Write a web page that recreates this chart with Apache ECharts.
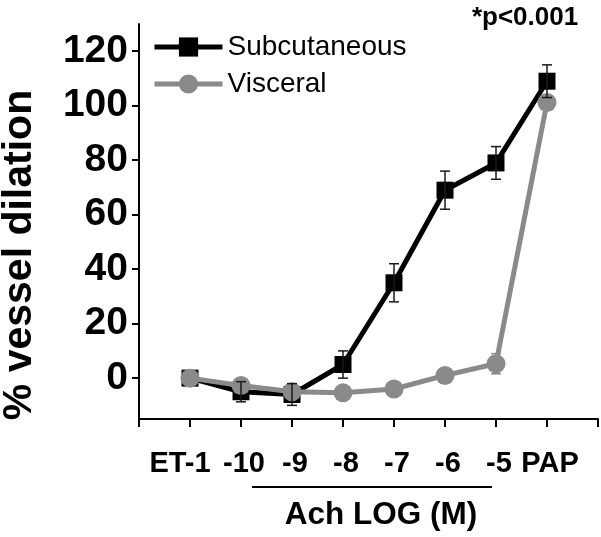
<!DOCTYPE html>
<html>
<head>
<meta charset="utf-8">
<script src="https://cdn.jsdelivr.net/npm/echarts@6/dist/echarts.min.js"></script>
<style>html,body{margin:0;padding:0;background:#fff}#c{width:601px;height:537px}</style>
</head>
<body>
<div id="c"></div>
<script>
const xLabels = ['ET-1', '-10', '-9', '-8', '-7', '-6', '-5', 'PAP'];
const xPositions = [1, 2, 3, 4, 5, 6, 7, 8];
const yTicks = [0, 20, 40, 60, 80, 100, 120];
const subcutaneous = [0, -5, -6, 5, 35, 69, 79, 109];
const subcutaneousErr = [0, 3.7, 4, 5, 7, 7, 6, 6];
const visceral = [0, -2.7, -5, -5.4, -4, 1, 5.3, 101.2];
const visceralErr = [1, 1, 1, 1.5, 1.5, 2, 3.7, 2];

const FONT = '"Liberation Sans", Arial, Helvetica, sans-serif';
const GRAY = '#8a8a8a';

function pts(vals) { return xPositions.map((x, i) => [x, vals[i]]); }
function errPts(vals, errs) { return xPositions.map((x, i) => [x, vals[i], errs[i]]); }

function errRender(color) {
  return function (params, api) {
    const x = api.value(0), y = api.value(1), e = api.value(2);
    if (!e) return { type: 'group', children: [] };
    const top = api.coord([x, y + e]);
    const bot = api.coord([x, y - e]);
    const hw = 5;
    const style = { stroke: color, lineWidth: 1.5 };
    return {
      type: 'group',
      children: [
        { type: 'line', shape: { x1: top[0], y1: top[1], x2: bot[0], y2: bot[1] }, style },
        { type: 'line', shape: { x1: top[0] - hw, y1: top[1], x2: top[0] + hw, y2: top[1] }, style },
        { type: 'line', shape: { x1: bot[0] - hw, y1: bot[1], x2: bot[0] + hw, y2: bot[1] }, style }
      ]
    };
  };
}

const labelFont = { fontFamily: FONT, fontSize: 29, fontWeight: 'bold', color: '#000' };

const chart = echarts.init(document.getElementById('c'), null, { renderer: 'canvas' });
chart.setOption({
  animation: false,
  backgroundColor: '#fff',
  grid: { left: 139, right: 3, top: 24, bottom: 118, containLabel: false },
  legend: {
    orient: 'vertical', left: 147, top: 28,
    itemWidth: 68, itemHeight: 24, itemGap: 9,
    lineStyle: { width: 5 },
    textStyle: { fontFamily: FONT, fontSize: 28, color: '#000' },
    data: ['Subcutaneous', 'Visceral']
  },
  xAxis: {
    type: 'value', min: 0, max: 9, interval: 1,
    axisLine: { onZero: false, lineStyle: { color: '#000', width: 2 } },
    axisTick: { length: 8, lineStyle: { color: '#000', width: 2 } },
    splitLine: { show: false },
    axisLabel: Object.assign({
      hideOverlap: false, showMinLabel: true, showMaxLabel: true,
      formatter: v => {
        const i = xPositions.indexOf(Math.round(v));
        if (i < 0) return '';
        return i === 0 ? '{first|' + xLabels[i] + '}' : '{n|' + xLabels[i] + '}';
      },
      margin: 30,
      rich: {
        first: Object.assign({ padding: [0, 20, 0, 0] }, labelFont),
        n: Object.assign({ padding: [0, 0, 0, 6] }, labelFont)
      }
    }, labelFont)
  },
  yAxis: {
    type: 'value', min: -15, max: 130,
    axisLine: { show: true, onZero: false, lineStyle: { color: '#000', width: 2 } },
    axisTick: { show: true, customValues: yTicks, length: 7, lineStyle: { color: '#000', width: 2 } },
    splitLine: { show: false },
    axisLabel: {
      customValues: yTicks, hideOverlap: false,
      fontFamily: FONT, fontSize: 39, fontWeight: 'bold', color: '#000', margin: 11
    }
  },
  series: [
    {
      name: 'Subcutaneous', type: 'line', z: 2,
      data: pts(subcutaneous),
      symbol: 'rect', symbolSize: 17,
      lineStyle: { color: '#000', width: 5 },
      itemStyle: { color: '#000' }
    },
    {
      type: 'custom', z: 3, renderItem: errRender(GRAY),
      data: errPts(visceral, visceralErr)
    },
    {
      name: 'Visceral', type: 'line', z: 4,
      data: pts(visceral),
      symbol: 'circle', symbolSize: 19,
      lineStyle: { color: GRAY, width: 5 },
      itemStyle: { color: GRAY }
    },
    {
      type: 'custom', z: 5, renderItem: errRender('#1a1a1a'),
      data: errPts(subcutaneous, subcutaneousErr)
    }
  ],
  graphic: [
    {
      type: 'text', x: 20, y: 255, rotation: Math.PI / 2,
      style: { text: '% vessel dilation', font: 'bold 41px ' + FONT, fill: '#000', align: 'center', verticalAlign: 'middle' }
    },
    {
      type: 'text', x: 525, y: 18,
      style: { text: '*p<0.001', font: 'bold 26px ' + FONT, fill: '#000', align: 'center', verticalAlign: 'middle' }
    },
    {
      type: 'line', shape: { x1: 252, y1: 487, x2: 492, y2: 487 },
      style: { stroke: '#000', lineWidth: 2 }
    },
    {
      type: 'text', x: 381, y: 515,
      style: { text: 'Ach LOG (M)', font: 'bold 31.5px ' + FONT, fill: '#000', align: 'center', verticalAlign: 'middle' }
    }
  ]
});
</script>
</body>
</html>
